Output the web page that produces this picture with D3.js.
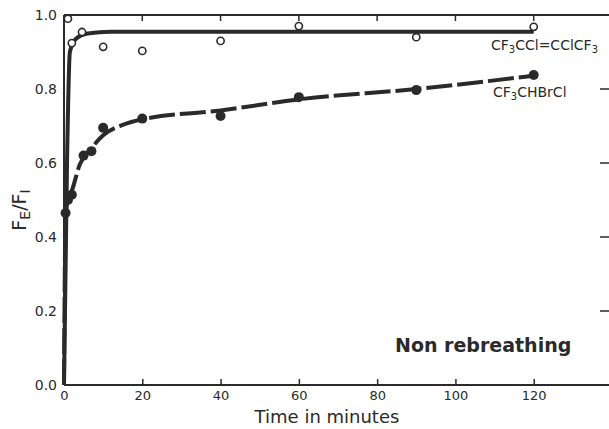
<!DOCTYPE html>
<html><head><meta charset="utf-8">
<script src="https://cdn.jsdelivr.net/npm/d3@7"></script>
<style>body{margin:0;background:#fff}svg{display:block}</style>
</head><body>
<script>
// Data
const xTicks = [0, 20, 40, 60, 80, 100, 120];
const yTicks = [0.0, 0.2, 0.4, 0.6, 0.8, 1.0];

// CF3CCl=CClCF3 (open circles)
const openTime  = [1, 2, 4.6, 10, 20, 40, 60, 90, 120];
const openValue = [0.99, 0.924, 0.954, 0.914, 0.903, 0.93, 0.97, 0.94, 0.968];
// fitted curve drawn through them
const openFitTime  = [0, 0.8, 1.5, 3, 6, 12, 30, 120];
const openFitValue = [0, 0.62, 0.9, 0.935, 0.95, 0.955, 0.955, 0.955];

// CF3CHBrCl (filled circles)
const fillTime  = [0.4, 1, 2, 5, 7, 10, 20, 40, 60, 90, 120];
const fillValue = [0.465, 0.50, 0.514, 0.62, 0.632, 0.695, 0.72, 0.727, 0.778, 0.797, 0.838];
const fillFitTime  = [0, 0.4, 1, 2, 4, 7, 10, 15, 20, 40, 60, 90, 120];
const fillFitValue = [0, 0.46, 0.50, 0.525, 0.595, 0.64, 0.675, 0.703, 0.718, 0.742, 0.772, 0.80, 0.836];

const W = 609, H = 429;
const ink = "#2a2a2a";
const svg = d3.select("body").append("svg").attr("width", W).attr("height", H);
svg.append("rect").attr("width", W).attr("height", H).attr("fill", "#fff");

const x = d3.scaleLinear().domain([0, 140]).range([64, 612]);
const y = d3.scaleLinear().domain([0, 1]).range([385, 15]);
const font = "'DejaVu Sans', sans-serif";

// frame lines
svg.append("line").attr("x1", x(0)).attr("x2", W).attr("y1", y(0)).attr("y2", y(0))
  .attr("stroke", ink).attr("stroke-width", 2);
svg.append("line").attr("x1", x(0)).attr("x2", W).attr("y1", y(1)).attr("y2", y(1))
  .attr("stroke", ink).attr("stroke-width", 2);
svg.append("line").attr("x1", x(0)).attr("x2", x(0)).attr("y1", y(0)).attr("y2", y(1))
  .attr("stroke", ink).attr("stroke-width", 2);

// bottom axis
const bottom = d3.axisBottom(x).tickValues(xTicks).tickSize(0).tickPadding(6).tickFormat(d3.format("d"));
const gb = svg.append("g").attr("transform", `translate(0,${y(0)})`).call(bottom);
gb.select(".domain").remove();
gb.selectAll("text").attr("font-family", font).attr("font-size", 13).attr("fill", ink);
gb.selectAll(".tick").filter(d => d > 0).append("line").attr("y1", 0).attr("y2", -6)
  .attr("stroke", ink).attr("stroke-width", 1.5);
// top ticks
svg.append("g").selectAll("line").data(xTicks.filter(d => d > 0)).join("line")
  .attr("x1", d => x(d)).attr("x2", d => x(d)).attr("y1", y(1)).attr("y2", y(1) + 6)
  .attr("stroke", ink).attr("stroke-width", 1.5);

// left axis labels
const left = d3.axisLeft(y).tickValues(yTicks).tickSize(0).tickPadding(7).tickFormat(d3.format(".1f"));
const gl = svg.append("g").attr("transform", `translate(${x(0)},0)`).call(left);
gl.select(".domain").remove();
gl.selectAll("text").attr("font-family", font).attr("font-size", 14).attr("fill", ink);

// right-edge ticks
svg.append("g").selectAll("line").data(yTicks.filter(d => d > 0 && d < 1)).join("line")
  .attr("x1", 600).attr("x2", W).attr("y1", d => y(d)).attr("y2", d => y(d))
  .attr("stroke", ink).attr("stroke-width", 1.5);

// curves
const line = d3.line().x(d => x(d[0])).y(d => y(d[1])).curve(d3.curveMonotoneX);
svg.append("path").datum(openFitTime.map((t, i) => [t, openFitValue[i]]))
  .attr("d", line).attr("fill", "none").attr("stroke", ink).attr("stroke-width", 4);
svg.append("path").datum(fillFitTime.map((t, i) => [t, fillFitValue[i]]))
  .attr("d", line).attr("fill", "none").attr("stroke", ink).attr("stroke-width", 4)
  .attr("stroke-dasharray", "26,5");

// markers
svg.append("g").selectAll("circle").data(openTime.map((t, i) => [t, openValue[i]])).join("circle")
  .attr("cx", d => x(d[0])).attr("cy", d => y(d[1])).attr("r", 3.6)
  .attr("fill", "#fff").attr("stroke", ink).attr("stroke-width", 1.6);
svg.append("g").selectAll("circle").data(fillTime.map((t, i) => [t, fillValue[i]])).join("circle")
  .attr("cx", d => x(d[0])).attr("cy", d => y(d[1])).attr("r", 5)
  .attr("fill", ink);

// series labels
function chem(parts, xx, yy) {
  const t = svg.append("text").attr("x", xx).attr("y", yy).attr("font-family", font)
    .attr("font-size", 14).attr("fill", ink);
  parts.forEach(p => {
    const s = t.append("tspan").text(p[0]);
    if (p[1]) s.attr("font-size", 10).attr("baseline-shift", "-3");
  });
  return t;
}
chem([["CF"], ["3", 1], ["CCl=CClCF"], ["3", 1]], 491, 50);
chem([["CF"], ["3", 1], ["CHBrCl"]], 493, 97);

// annotation
svg.append("text").attr("x", 395).attr("y", 352).attr("font-family", font)
  .attr("font-size", 19).attr("font-weight", "bold").attr("fill", ink).text("Non rebreathing");

// axis titles
svg.append("text").attr("x", 327).attr("y", 423).attr("text-anchor", "middle")
  .attr("font-family", font).attr("font-size", 18).attr("fill", ink).text("Time in minutes");
const yl = svg.append("text").attr("transform", "translate(26,210) rotate(-90)")
  .attr("text-anchor", "middle").attr("font-family", font).attr("font-size", 19).attr("fill", ink);
yl.append("tspan").text("F");
yl.append("tspan").text("E").attr("font-size", 14).attr("baseline-shift", "-4");
yl.append("tspan").text("/F");
yl.append("tspan").text("I").attr("font-size", 14).attr("baseline-shift", "-4");
</script>
</body></html>
